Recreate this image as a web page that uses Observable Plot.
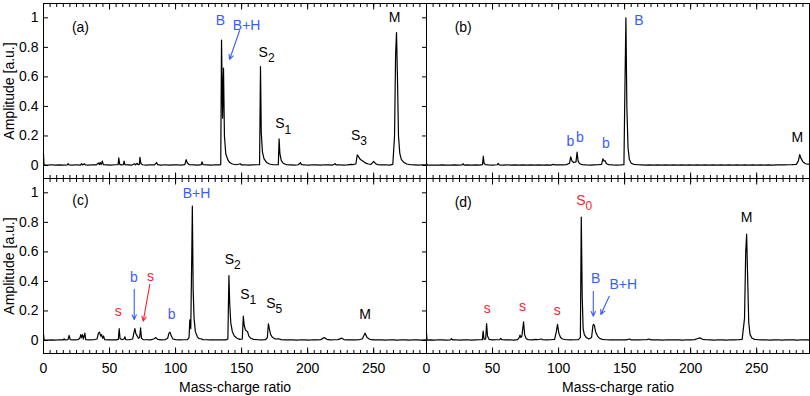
<!DOCTYPE html>
<html><head><meta charset="utf-8">
<script src="https://cdn.jsdelivr.net/npm/d3@7"></script>
<script src="https://cdn.jsdelivr.net/npm/@observablehq/plot@0.6"></script>
<style>
body{margin:0;background:#fff}
#chart svg{display:block}
</style>
</head><body><div id="chart"></div>
<script>
// panel layout (column / row of each panel)
const panelIds = ["a","b","c","d"];
const panelCol = {a:"L", b:"R", c:"L", d:"R"};
const panelRow = {a:"T", b:"T", c:"B", d:"B"};

// spectra: [mass-charge ratio, amplitude]
const specA = [[0,0.08],[0.4,0.004],[3,0.002],[6,0.005],[9,0.003],[12,0.004],[15,0.003],[18,0.004],[18.7,0.012],[19.4,0.004],[22,0.003],[25,0.005],[28,0.003],[28.8,0.012],[29.5,0.004],[31,0.012],[31.6,0.004],[34,0.003],[37,0.005],[40,0.004],[41.6,0.018],[42.3,0.006],[43,0.02],[43.6,0.006],[44.6,0.03],[45.3,0.005],[48,0.004],[51,0.003],[54,0.005],[56.5,0.006],[57,0.052],[57.7,0.008],[59,0.004],[60.5,0.005],[61,0.03],[61.7,0.005],[64,0.004],[67,0.003],[69,0.012],[69.6,0.004],[71,0.015],[71.6,0.005],[72.6,0.008],[73,0.056],[73.8,0.012],[75,0.005],[78,0.003],[81,0.005],[84,0.004],[85.6,0.02],[86.4,0.006],[89,0.003],[92,0.005],[95,0.003],[98,0.004],[101,0.005],[104,0.003],[107,0.006],[108,0.04],[109,0.015],[110.5,0.005],[114,0.004],[117,0.003],[119.5,0.006],[120,0.025],[120.8,0.005],[124,0.004],[127,0.003],[130,0.005],[133,0.004],[134.2,0.006],[134.8,0.85],[135.6,0.32],[136.3,0.66],[137,0.2],[138,0.08],[139.5,0.04],[141,0.02],[143,0.01],[146,0.005],[149,0.012],[149.7,0.004],[152,0.005],[155,0.003],[158,0.004],[161,0.005],[163.6,0.006],[164.3,0.67],[164.9,0.22],[165.8,0.09],[167,0.045],[169,0.02],[171,0.01],[174,0.005],[177.8,0.006],[178.4,0.18],[179,0.08],[180,0.035],[181.5,0.015],[184,0.005],[187,0.004],[190,0.003],[193,0.005],[194.5,0.02],[195.3,0.006],[198,0.004],[201,0.003],[204,0.005],[207,0.004],[210,0.003],[213,0.005],[216,0.004],[219,0.003],[220.7,0.012],[221.5,0.004],[224,0.005],[227,0.003],[230,0.004],[233,0.008],[234,0.006],[236.5,0.01],[237.6,0.072],[238.5,0.06],[240,0.04],[242,0.028],[244,0.016],[246,0.01],[248,0.008],[250,0.028],[251.5,0.012],[253,0.006],[256,0.004],[259,0.005],[262,0.003],[264.5,0.008],[265.8,0.2],[266.6,0.75],[267.3,0.9],[268,0.6],[268.8,0.2],[269.8,0.08],[271,0.04],[273,0.02],[275,0.01],[278,0.005],[281,0.004],[284,0.003],[287,0.005],[290,0.004]];

const specB = [[0,0.02],[0.4,0.003],[3,0.002],[6,0.003],[9,0.002],[12,0.004],[15,0.003],[18,0.002],[21,0.004],[24,0.003],[27,0.004],[27.8,0.012],[28.5,0.003],[31,0.004],[34,0.003],[37,0.004],[40,0.003],[42.4,0.006],[43,0.063],[43.6,0.015],[44.6,0.006],[47,0.004],[50,0.003],[53.6,0.005],[54.3,0.014],[55,0.004],[58,0.003],[61,0.004],[64,0.003],[67,0.004],[70,0.003],[73,0.004],[76,0.003],[79,0.004],[82,0.003],[85,0.004],[88,0.003],[91,0.004],[94,0.003],[96,0.008],[97,0.004],[100,0.005],[103,0.004],[106,0.006],[108.3,0.015],[109.2,0.058],[110.2,0.03],[111.5,0.02],[113.2,0.025],[114,0.09],[114.8,0.03],[116,0.012],[118,0.006],[121,0.004],[124,0.003],[127,0.004],[130,0.005],[132.5,0.008],[133.6,0.045],[134.4,0.03],[135.3,0.032],[136.2,0.012],[138,0.006],[141,0.004],[144,0.003],[147,0.004],[149.5,0.006],[150.2,0.5],[151,1.0],[151.7,0.4],[152.6,0.12],[153.6,0.04],[155,0.015],[157,0.008],[160,0.005],[163,0.004],[166,0.003],[169,0.004],[172,0.003],[175,0.004],[178,0.003],[181,0.004],[184,0.003],[187,0.004],[190,0.003],[193,0.004],[196,0.003],[199,0.004],[202,0.003],[205,0.004],[208,0.003],[211,0.004],[214,0.003],[217,0.004],[220,0.003],[223,0.004],[226,0.003],[229,0.004],[232,0.003],[235,0.004],[238,0.003],[241,0.004],[244,0.003],[247,0.004],[250,0.003],[253,0.004],[256,0.003],[259,0.004],[262,0.003],[265,0.004],[268,0.005],[271,0.004],[274,0.005],[277,0.006],[280,0.008],[281.5,0.03],[282.6,0.074],[283.5,0.05],[285,0.025],[287,0.012],[290,0.008]];

const specC = [[0,0.045],[0.4,0.004],[3,0.003],[6,0.004],[9,0.003],[12,0.005],[15,0.004],[15.6,0.012],[16.2,0.004],[18.5,0.006],[19.4,0.034],[20.2,0.006],[23,0.004],[26,0.005],[27.5,0.015],[28.2,0.04],[28.8,0.02],[29.5,0.04],[30.2,0.01],[31.3,0.05],[32,0.006],[35,0.004],[38,0.005],[40.5,0.01],[41.6,0.05],[42.4,0.057],[43.3,0.03],[44,0.04],[44.8,0.015],[45.5,0.03],[46.3,0.006],[49,0.004],[52,0.005],[55,0.004],[56.7,0.008],[57.3,0.08],[58,0.012],[59.5,0.006],[61,0.01],[61.6,0.025],[62.3,0.006],[65,0.005],[67.5,0.01],[68.4,0.05],[69.2,0.08],[70,0.045],[71,0.03],[71.8,0.015],[72.8,0.02],[73.5,0.085],[74.2,0.015],[75.5,0.006],[78,0.005],[81,0.004],[83.5,0.01],[85,0.02],[86.5,0.008],[89,0.004],[92,0.005],[94,0.015],[95,0.05],[95.8,0.057],[96.8,0.03],[98,0.01],[100,0.006],[103,0.004],[106,0.005],[109,0.006],[110.2,0.02],[110.8,0.14],[111.5,0.08],[112.3,0.6],[112.7,0.91],[113.3,0.35],[114,0.15],[115,0.06],[116.5,0.025],[118,0.012],[119.3,0.012],[120.5,0.006],[123,0.005],[126,0.004],[129,0.005],[132,0.004],[135,0.005],[138,0.004],[139.6,0.01],[140.4,0.44],[141,0.25],[141.8,0.12],[143,0.06],[144.5,0.03],[146.5,0.015],[148.5,0.008],[150.5,0.01],[151.3,0.165],[152,0.1],[153,0.07],[154.5,0.06],[155.5,0.03],[157,0.015],[159,0.008],[162,0.005],[165,0.004],[168,0.005],[169.5,0.02],[170.3,0.113],[171,0.08],[172,0.04],[173.5,0.02],[175.5,0.01],[178,0.012],[180,0.006],[183,0.004],[186,0.005],[189,0.004],[192,0.003],[195,0.005],[198,0.004],[201,0.003],[204,0.005],[207,0.004],[210,0.006],[212.6,0.02],[214.5,0.008],[217,0.004],[220,0.005],[223,0.006],[225.8,0.016],[227.5,0.006],[230,0.004],[233,0.005],[236,0.004],[239,0.005],[241.5,0.012],[243.4,0.05],[245,0.02],[247,0.008],[250,0.004],[253,0.005],[256,0.004],[259,0.003],[262,0.005],[265,0.004],[268,0.003],[271,0.005],[274,0.004],[277,0.003],[280,0.005],[283,0.004],[286,0.003],[290,0.004]];

const specD = [[0,0.05],[0.4,0.003],[3,0.004],[6,0.003],[9,0.005],[12,0.004],[15,0.003],[18,0.004],[19,0.012],[19.7,0.004],[22,0.005],[25,0.003],[28,0.004],[31,0.005],[34,0.003],[37,0.004],[40,0.005],[42.3,0.006],[42.9,0.064],[43.5,0.01],[44.8,0.01],[45.5,0.114],[46.2,0.03],[47.3,0.008],[50,0.004],[53,0.005],[55.5,0.006],[56.2,0.015],[57,0.005],[60,0.004],[63,0.005],[66,0.003],[69,0.006],[70.2,0.02],[70.8,0.036],[71.5,0.02],[72.2,0.03],[73.5,0.127],[74.3,0.04],[75.5,0.012],[77,0.006],[80,0.004],[83,0.008],[84,0.005],[87,0.01],[88,0.005],[91,0.004],[94,0.005],[97,0.008],[98.3,0.06],[99.2,0.11],[100.2,0.05],[101.5,0.02],[103,0.01],[106,0.005],[109,0.004],[112,0.005],[115,0.006],[116.5,0.02],[117.2,0.836],[117.9,0.3],[118.6,0.08],[119.5,0.04],[121,0.02],[123,0.01],[125,0.02],[126,0.1],[126.5,0.11],[127.2,0.1],[128,0.06],[129.5,0.03],[131,0.015],[133,0.008],[136,0.005],[139,0.004],[142,0.005],[145,0.004],[148,0.005],[151,0.004],[154,0.01],[155,0.004],[158,0.005],[161,0.004],[164,0.005],[167,0.006],[168.5,0.01],[170,0.004],[173,0.005],[176,0.004],[179,0.003],[182,0.005],[185,0.004],[188,0.005],[191,0.004],[194,0.003],[197,0.005],[200,0.004],[203,0.006],[205,0.012],[207,0.018],[209,0.008],[212,0.005],[215,0.004],[218,0.003],[221,0.005],[224,0.004],[227,0.003],[230,0.005],[233,0.004],[236,0.005],[239,0.008],[240.8,0.15],[241.7,0.6],[242.4,0.72],[243.1,0.45],[244,0.12],[245,0.04],[246.5,0.015],[248.5,0.008],[251,0.005],[254,0.004],[257,0.005],[260,0.003],[263,0.004],[266,0.005],[269,0.003],[272,0.004],[275,0.005],[278,0.004],[281,0.003],[284,0.005],[287,0.004],[290,0.004]];

const spectra = {a: specA, b: specB, c: specC, d: specD};

// annotations: [panel, x, y, text, subscript, colour]
const BLUE = "#3a5cff", RED = "#ff2035", BLACK = "#000";
const peakLabels = [
  ["a",28,0.934,"(a)","",BLACK],
  ["a",133.9,0.982,"B","",BLUE],
  ["a",153.8,0.948,"B+H","",BLUE],
  ["a",166.4,0.766,"S","2",BLACK],
  ["a",179,0.281,"S","1",BLACK],
  ["a",236.4,0.203,"S","3",BLACK],
  ["a",265.9,1.002,"M","",BLACK],
  ["b",27.8,0.934,"(b)","",BLACK],
  ["b",160.8,0.982,"B","",BLUE],
  ["b",108.9,0.164,"b","",BLUE],
  ["b",116.1,0.191,"b","",BLUE],
  ["b",135.8,0.151,"b","",BLUE],
  ["b",280.8,0.191,"M","",BLACK],
  ["c",28,0.947,"(c)","",BLACK],
  ["c",115.9,0.997,"B+H","",BLUE],
  ["c",140.7,0.549,"S","2",BLACK],
  ["c",152.5,0.312,"S","1",BLACK],
  ["c",172.2,0.251,"S","5",BLACK],
  ["c",243.4,0.176,"M","",BLACK],
  ["c",56.6,0.199,"s","",RED],
  ["c",68.4,0.425,"b","",BLUE],
  ["c",81.1,0.436,"s","",RED],
  ["c",97,0.176,"b","",BLUE],
  ["d",27.8,0.934,"(d)","",BLACK],
  ["d",116.9,0.951,"S","0",RED],
  ["d",242.4,0.832,"M","",BLACK],
  ["d",46,0.215,"s","",RED],
  ["d",72.7,0.233,"s","",RED],
  ["d",99,0.203,"s","",RED],
  ["d",128,0.418,"B","",BLUE],
  ["d",149,0.38,"B+H","",BLUE]
];
// arrows: [panel, x1, y1, x2, y2, colour]
const arrowList = [
  ["a",148.5,0.914,140.9,0.718,BLUE],
  ["c",68.7,0.346,68.7,0.142,BLUE],
  ["c",80.5,0.38,75.5,0.131,RED],
  ["d",126.3,0.334,126.3,0.165,BLUE],
  ["d",138.4,0.30,132,0.176,BLUE]
];

const xTicks = [0,50,100,150,200,250];
const xMinorTicks = d3.range(0, 291, 5);
const yTicks = [0,0.2,0.4,0.6,0.8,1];
const xTitle = "Mass-charge ratio";
const yTitle = "Amplitude [a.u.]";

// build tables
const lineRows = panelIds.flatMap(p => spectra[p].map(([x,y]) => ({p, col: panelCol[p], row: panelRow[p], x, y})));
const labelRows = peakLabels.map(([p,x,y,t,sub,c]) => ({col: panelCol[p], row: panelRow[p], x, y, t, sub, c}));
const arrowRows = arrowList.map(([p,x1,y1,x2,y2,c]) => ({col: panelCol[p], row: panelRow[p], x1, y1, x2, y2, c}));
const yTitleRows = [{col:"L", row:"T"}, {col:"L", row:"B"}];
const xTitleRows = [{col:"L", row:"B"}, {col:"R", row:"B"}];

const font = "'Liberation Sans', Arial, Helvetica, sans-serif";

const chart = Plot.plot({
  width: 810,
  height: 396,
  marginLeft: 42,
  marginRight: 1,
  marginTop: 3,
  marginBottom: 43,
  style: {fontFamily: font, fontSize: "14px", color: "#000", background: "#fff"},
  x: {domain: [0, 290]},
  y: {domain: [-0.088, 1.097]},
  fx: {domain: ["L","R"], padding: 0, axis: null},
  fy: {domain: ["T","B"], padding: 0, axis: null},
  color: {type: "identity"},
  marks: [
    Plot.frame({stroke: "#000", strokeWidth: 1}),
    // inward ticks
    Plot.axisX(xMinorTicks, {anchor: "bottom", facetAnchor: null, tickSize: -3, fill: "none", label: null}),
    Plot.axisX(xTicks, {anchor: "bottom", facetAnchor: null, tickSize: -5.5, fill: "none", label: null}),
    Plot.axisX(xMinorTicks, {anchor: "top", facetAnchor: null, tickSize: -3, fill: "none", label: null}),
    Plot.axisX(xTicks, {anchor: "top", facetAnchor: null, tickSize: -5.5, fill: "none", label: null}),
    Plot.axisY(yTicks, {anchor: "left", facetAnchor: "left", tickSize: -5, fill: "none", label: null}),
    Plot.axisY(yTicks, {anchor: "right", facetAnchor: "left", tickSize: -5, fill: "none", label: null}),
    // tick labels
    Plot.axisX(xTicks, {anchor: "bottom", facetAnchor: "bottom", tickSize: 0, tickPadding: 10, label: null, fontSize: 14}),
    Plot.axisY(yTicks, {anchor: "left", facetAnchor: "left", tickSize: 0, tickPadding: 5, label: null, fontSize: 14, tickFormat: d3.format("~g")}),
    // spectra
    Plot.line(lineRows, {x: "x", y: "y", z: "p", fx: "col", fy: "row", stroke: "#000", strokeWidth: 1.2}),
    // annotations
    Plot.text(labelRows, {x: "x", y: "y", fx: "col", fy: "row", text: "t", fill: "c", fontSize: 14}),
    Plot.text(labelRows.filter(d => d.sub), {x: "x", y: "y", fx: "col", fy: "row", text: "sub", fill: "c", fontSize: 12, dx: 8, dy: 6}),
    Plot.arrow(arrowRows, {x1: "x1", y1: "y1", x2: "x2", y2: "y2", fx: "col", fy: "row", stroke: "c", strokeWidth: 1.1, headLength: 7, headAngle: 50}),
    // axis titles
    Plot.text(yTitleRows, {fx: "col", fy: "row", frameAnchor: "left", textAnchor: "middle", lineAnchor: "middle", text: () => yTitle, rotate: -90, dx: -34, fontSize: 14}),
    Plot.text(xTitleRows, {fx: "col", fy: "row", frameAnchor: "bottom", textAnchor: "middle", lineAnchor: "middle", text: () => xTitle, dy: 34, fontSize: 14})
  ]
});
document.getElementById("chart").appendChild(chart);
</script>
</body></html>
